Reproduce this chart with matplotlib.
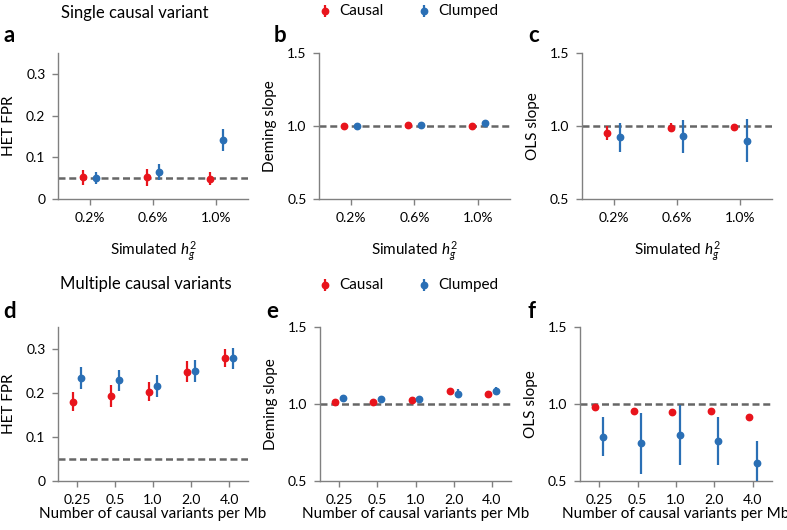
import matplotlib
matplotlib.use("Agg")
import matplotlib.pyplot as plt
import numpy as np

plt.rcParams['font.family'] = ['Lato', 'DejaVu Sans']
plt.rcParams['mathtext.fontset'] = 'custom'
plt.rcParams['mathtext.it'] = 'Lato:italic'
plt.rcParams['mathtext.rm'] = 'Lato'

# ---------------- data ----------------
h2_labels = ["0.2%", "0.6%", "1.0%"]
ncv_labels = ["0.25", "0.5", "1.0", "2.0", "4.0"]

# panel a: HET FPR, single causal variant
a_causal = [0.052, 0.052, 0.049]
a_causal_err = [0.018, 0.021, 0.015]
a_clumped = [0.050, 0.065, 0.142]
a_clumped_err = [0.015, 0.019, 0.027]

# panel b: Deming slope, single causal variant
b_causal = [1.000, 1.005, 1.002]
b_causal_err = [0.020, 0.010, 0.007]
b_clumped = [0.998, 1.004, 1.020]
b_clumped_err = [0.020, 0.010, 0.012]

# panel c: OLS slope, single causal variant
c_causal = [0.952, 0.989, 0.990]
c_causal_err = [0.045, 0.030, 0.022]
c_clumped = [0.922, 0.929, 0.900]
c_clumped_err = [0.100, 0.115, 0.145]

# panel d: HET FPR, multiple causal variants
d_causal = [0.180, 0.194, 0.203, 0.248, 0.279]
d_causal_err = [0.022, 0.025, 0.022, 0.024, 0.021]
d_clumped = [0.233, 0.229, 0.217, 0.250, 0.279]
d_clumped_err = [0.025, 0.024, 0.025, 0.025, 0.024]

# panel e: Deming slope, multiple causal variants
e_causal = [1.015, 1.013, 1.026, 1.084, 1.065]
e_causal_err = [0.012, 0.015, 0.015, 0.020, 0.015]
e_clumped = [1.040, 1.030, 1.030, 1.067, 1.084]
e_clumped_err = [0.020, 0.020, 0.018, 0.030, 0.025]

# panel f: OLS slope, multiple causal variants
f_causal = [0.978, 0.957, 0.950, 0.952, 0.913]
f_causal_err = [0.015, 0.015, 0.015, 0.018, 0.018]
f_clumped = [0.788, 0.745, 0.797, 0.760, 0.620]
f_clumped_err = [0.128, 0.197, 0.195, 0.155, 0.140]

RED = "#e8141c"
BLUE = "#2a6fb5"
SPINE = "#808080"
DASH = "#666666"

W, H = 787, 530
fig = plt.figure(figsize=(W / 100, H / 100), dpi=100)


def add_ax(x0, y0, x1, y1):
    return fig.add_axes([x0 / W, 1 - y1 / H, (x1 - x0) / W, (y1 - y0) / H])


def draw(ax, labels, causal, causal_err, clumped, clumped_err, ylim, yticks,
         yticklabels, ylabel, xlabel, ref, xpad):
    x = np.arange(len(labels))
    ax.axhline(ref, color=DASH, lw=1.8, dashes=(2.8, 1.5), zorder=1)
    ax.errorbar(x - 0.1, causal, yerr=causal_err, fmt='o', color=RED,
                ms=4.6, elinewidth=1.6, capsize=0, zorder=3)
    ax.errorbar(x + 0.1, clumped, yerr=clumped_err, fmt='o', color=BLUE,
                ms=4.6, elinewidth=1.6, capsize=0, zorder=3)
    ax.set_xlim(-0.5, len(labels) - 0.5)
    ax.set_ylim(*ylim)
    ax.set_xticks(x)
    ax.set_xticklabels(labels)
    ax.set_yticks(yticks)
    ax.set_yticklabels(yticklabels)
    for s in ['top', 'right']:
        ax.spines[s].set_visible(False)
    for s in ['left', 'bottom']:
        ax.spines[s].set_color(SPINE)
        ax.spines[s].set_linewidth(1.0)
    ax.tick_params(axis='both', colors=SPINE, labelcolor='black',
                   labelsize=10, length=4, width=1.0, pad=5)
    ax.set_ylabel(ylabel, fontsize=11, labelpad=7)
    ax.set_xlabel(xlabel, fontsize=11, labelpad=xpad)


h2_xlabel = r"Simulated $h_g^2$"
ncv_xlabel = "Number of causal variants per Mb"

ax_a = add_ax(58, 53, 248, 199)
draw(ax_a, h2_labels, a_causal, a_causal_err, a_clumped, a_clumped_err,
     (0, 0.35), [0, 0.1, 0.2, 0.3], ["0", "0.1", "0.2", "0.3"], "HET FPR",
     h2_xlabel, 0.05, 11)
ax_b = add_ax(319, 53, 510, 199)
draw(ax_b, h2_labels, b_causal, b_causal_err, b_clumped, b_clumped_err,
     (0.5, 1.5), [0.5, 1.0, 1.5], ["0.5", "1.0", "1.5"], "Deming slope",
     h2_xlabel, 1.0, 11)
ax_c = add_ax(582, 53, 772, 199)
draw(ax_c, h2_labels, c_causal, c_causal_err, c_clumped, c_clumped_err,
     (0.5, 1.5), [0.5, 1.0, 1.5], ["0.5", "1.0", "1.5"], "OLS slope",
     h2_xlabel, 1.0, 11)
ax_d = add_ax(58, 327, 248, 481)
draw(ax_d, ncv_labels, d_causal, d_causal_err, d_clumped, d_clumped_err,
     (0, 0.35), [0, 0.1, 0.2, 0.3], ["0", "0.1", "0.2", "0.3"], "HET FPR",
     ncv_xlabel, 0.05, 1)
ax_e = add_ax(320, 327, 511, 481)
draw(ax_e, ncv_labels, e_causal, e_causal_err, e_clumped, e_clumped_err,
     (0.5, 1.5), [0.5, 1.0, 1.5], ["0.5", "1.0", "1.5"], "Deming slope",
     ncv_xlabel, 1.0, 1)
ax_f = add_ax(580, 327, 772, 481)
draw(ax_f, ncv_labels, f_causal, f_causal_err, f_clumped, f_clumped_err,
     (0.5, 1.5), [0.5, 1.0, 1.5], ["0.5", "1.0", "1.5"], "OLS slope",
     ncv_xlabel, 1.0, 1)

# panel letters
for letter, (px, py) in zip("abcdef", [(3, 42), (274, 42), (528, 42),
                                        (3, 318), (266, 318), (528, 318)]):
    fig.text(px / W, 1 - py / H, letter, fontsize=16, fontweight='bold',
             ha='left', va='baseline')

# row titles
fig.text(135 / W, 1 - 13 / H, "Single causal variant", fontsize=12,
         ha='center', va='center')
fig.text(146 / W, 1 - 284 / H, "Multiple causal variants", fontsize=12,
         ha='center', va='center')


def draw_legend(ycenter):
    lax = fig.add_axes([0, 1 - (ycenter + 10) / H, 1, 20 / H])
    lax.set_xlim(0, W)
    lax.set_ylim(-10, 10)
    lax.axis('off')
    for xm, col, txt in [(325, RED, "Causal"), (424, BLUE, "Clumped")]:
        lax.errorbar([xm], [0], yerr=[[6], [6]], fmt='o', color=col, ms=4.6,
                     elinewidth=1.6, capsize=0)
        lax.text(xm + 14, 0, txt, fontsize=11, ha='left', va='center')


draw_legend(11)
draw_legend(285)

fig.savefig("out.png", dpi=100)
